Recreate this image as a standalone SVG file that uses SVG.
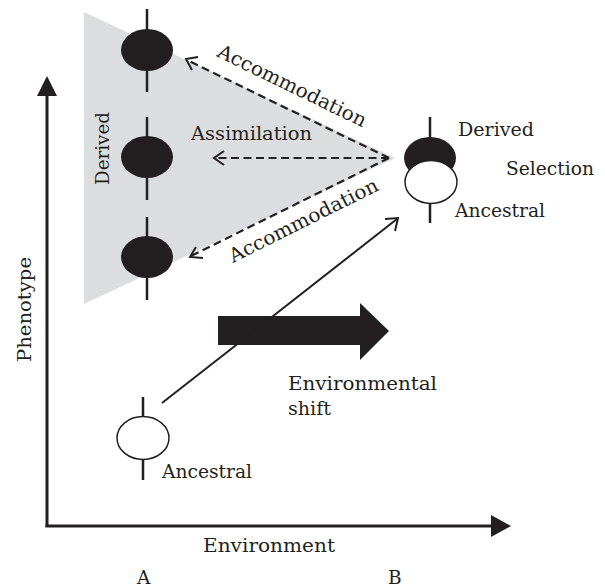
<svg xmlns="http://www.w3.org/2000/svg" width="605" height="587" viewBox="0 0 605 587">
<style>
  text { font-family: "DejaVu Serif", "Liberation Serif", serif; font-size: 18.5px; fill: #231f20; }
  .big { font-size: 19.5px; }
  .stem { stroke: #231f20; stroke-width: 2.5; fill: none; }
  .dark { fill: #231f20; }
  .light { fill: #ffffff; stroke: #231f20; stroke-width: 1.5; }
  .dash { stroke: #231f20; stroke-width: 2.2; fill: none; stroke-dasharray: 8 4.5; }
  .head { stroke: #231f20; stroke-width: 2; fill: none; }
  .axis { stroke: #231f20; stroke-width: 3; fill: none; }
</style>
<rect width="605" height="587" fill="#ffffff"/>
<polygon id="derived-region" points="84,12 395,158 84,304" fill="#dcdddf"/>

<g id="axes">
  <line class="axis" x1="47" y1="94" x2="47" y2="527"/>
  <line class="axis" x1="45.5" y1="526" x2="492" y2="526"/>
  <polygon class="dark" points="47,76 57,96 37,96"/>
  <polygon class="dark" points="511,526 491,515 491,537"/>
  <text id="phenotype-label" transform="translate(31,362) rotate(-90)" textLength="105" lengthAdjust="spacingAndGlyphs">Phenotype</text>
  <text id="environment-label" x="203" y="552" textLength="132" lengthAdjust="spacingAndGlyphs">Environment</text>
  <text x="137" y="584">A</text>
  <text x="388" y="584">B</text>
</g>

<g id="env-shift">
  <polygon class="dark" points="218,316 360,316 360,303 389,331 360,360 360,345 218,345"/>
  <text x="288" y="390" textLength="149" lengthAdjust="spacingAndGlyphs">Environmental</text>
  <text x="288" y="415" textLength="43" lengthAdjust="spacingAndGlyphs">shift</text>
</g>

<g id="connectors">
  <line class="head" x1="162" y1="403" x2="397" y2="219"/>
  <polyline class="head" points="385,219 398,218 395,231"/>
  <line class="dash" x1="389" y1="158" x2="187" y2="60"/>
  <polyline class="head" points="192,70 186,59 198,57"/>
  <line class="dash" x1="389" y1="158" x2="215" y2="158"/>
  <polyline class="head" points="224,151 214,158 224,165"/>
  <line class="dash" x1="389" y1="158" x2="191" y2="256"/>
  <polyline class="head" points="203,258 190,257 196,247"/>
  <text id="accommodation-top" class="big" transform="translate(216,56) rotate(26)" textLength="163" lengthAdjust="spacingAndGlyphs">Accommodation</text>
  <text id="accommodation-bottom" class="big" transform="translate(233,263) rotate(-26.5)" textLength="164" lengthAdjust="spacingAndGlyphs">Accommodation</text>
  <text id="assimilation" x="191" y="140" textLength="121" lengthAdjust="spacingAndGlyphs">Assimilation</text>
</g>

<g id="derived-top">
  <line class="stem" x1="147" y1="9" x2="147" y2="92"/>
  <ellipse class="dark" cx="147" cy="50" rx="26" ry="21"/>
</g>
<g id="derived-middle">
  <line class="stem" x1="147" y1="117" x2="147" y2="200"/>
  <ellipse class="dark" cx="147" cy="157" rx="26" ry="21"/>
</g>
<g id="derived-bottom">
  <line class="stem" x1="147" y1="217" x2="147" y2="300"/>
  <ellipse class="dark" cx="147" cy="257" rx="26" ry="21"/>
</g>
<text id="derived-side-label" transform="translate(109,185) rotate(-90)" textLength="73" lengthAdjust="spacingAndGlyphs">Derived</text>

<g id="selection-node">
  <line class="stem" x1="430" y1="117" x2="430" y2="223"/>
  <ellipse class="dark" cx="430" cy="158" rx="26" ry="21"/>
  <ellipse class="light" cx="431" cy="182" rx="26" ry="21.5"/>
  <text x="458" y="136" textLength="76" lengthAdjust="spacingAndGlyphs">Derived</text>
  <text x="506" y="175" textLength="88" lengthAdjust="spacingAndGlyphs">Selection</text>
  <text x="455" y="217" textLength="90" lengthAdjust="spacingAndGlyphs">Ancestral</text>
</g>

<g id="ancestral-node">
  <line class="stem" x1="143" y1="397" x2="143" y2="480"/>
  <ellipse class="light" cx="143" cy="438" rx="26" ry="21.5"/>
  <text x="162" y="478" textLength="90" lengthAdjust="spacingAndGlyphs">Ancestral</text>
</g>
</svg>
